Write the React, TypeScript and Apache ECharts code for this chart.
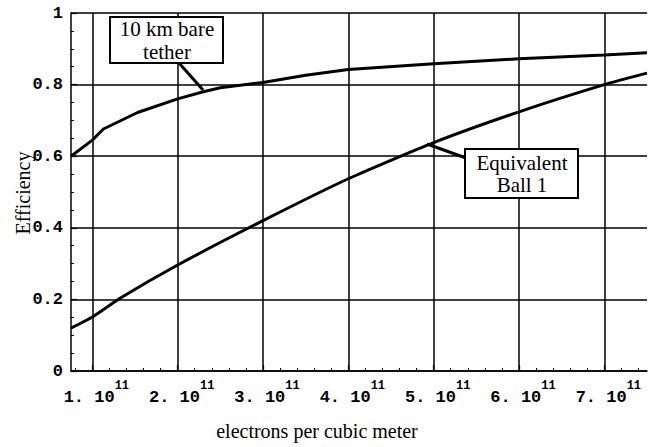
import React, { useEffect, useRef } from "react";
import * as echarts from "echarts";

// x in units of 1e11 electrons per cubic meter
const xTickValues = [1, 2, 3, 4, 5, 6, 7];
const tetherX = [0.75, 1.0, 1.13, 1.53, 2.0, 2.3, 2.5, 3.0, 3.5, 4.0, 5.0, 6.0, 7.0, 7.5];
const tetherY = [0.600, 0.645, 0.676, 0.722, 0.760, 0.780, 0.791, 0.806, 0.826, 0.842, 0.858, 0.872, 0.883, 0.889];
const ballX = [0.75, 1.0, 1.33, 2.0, 3.0, 4.0, 5.0, 6.0, 7.0, 7.5];
const ballY = [0.12, 0.151, 0.204, 0.296, 0.42, 0.537, 0.638, 0.724, 0.80, 0.832];

const MONO = "'Liberation Mono', 'DejaVu Sans Mono', monospace";
const SERIF = "'Liberation Serif', 'DejaVu Serif', serif";

export default function App() {
  const ref = useRef<HTMLDivElement>(null);
  useEffect(() => {
    document.body.style.margin = "0";
    const chart = echarts.init(ref.current!, undefined, { renderer: "svg" });
    const black = "#000";
    chart.setOption({
      animation: false,
      backgroundColor: "#fff",
      grid: { left: 71, right: 22, top: 13, bottom: 76, containLabel: false },
      xAxis: {
        type: "value",
        min: 0.75,
        max: 7.5,
        axisLine: { show: true, lineStyle: { color: black, width: 1.5 } },
        axisTick: { show: true, inside: true, length: 6, customValues: xTickValues, lineStyle: { color: black, width: 1.2 } },
        minorTick: { show: true, splitNumber: 5, length: 3, lineStyle: { color: black, width: 1 } },
        splitLine: { show: true, lineStyle: { color: black, width: 1.5 } },
        axisLabel: {
          customValues: xTickValues,
          margin: 9,
          padding: [0, 0, 0, 8],
          formatter: (v: number) => `{a|${v}. 10}{b|11}`,
          rich: {
            a: { fontFamily: MONO, fontWeight: "bold", fontSize: 17, color: black, verticalAlign: "bottom" },
            b: { fontFamily: MONO, fontWeight: "bold", fontSize: 12, color: black, padding: [0, 0, 14, 0], verticalAlign: "top" },
          },
        },
      },
      yAxis: {
        type: "value",
        min: 0,
        max: 1,
        interval: 0.2,
        axisLine: { show: true, lineStyle: { color: black, width: 1.5 } },
        axisTick: { show: true, inside: true, length: 6, lineStyle: { color: black, width: 1.2 } },
        minorTick: { show: true, splitNumber: 4, length: 3, lineStyle: { color: black, width: 1 } },
        splitLine: { show: true, lineStyle: { color: black, width: 1.5 } },
        axisLabel: { margin: 8, fontFamily: MONO, fontWeight: "bold", fontSize: 17, color: black },
      },
      series: [
        {
          name: "10 km bare tether",
          type: "line",
          symbol: "none",
          smooth: false,
          lineStyle: { color: black, width: 3 },
          data: tetherX.map((x, i) => [x, tetherY[i]]),
          z: 5,
        },
        {
          name: "Equivalent Ball 1",
          type: "line",
          symbol: "none",
          smooth: 0.2,
          lineStyle: { color: black, width: 3 },
          data: ballX.map((x, i) => [x, ballY[i]]),
          z: 5,
        },
      ],
      graphic: [
        { type: "line", shape: { x1: 179, y1: 63, x2: 203, y2: 90 }, style: { stroke: black, lineWidth: 3 }, z: 10 },
        { type: "rect", shape: { x: 110, y: 17, width: 113, height: 46 }, style: { fill: "#fff", stroke: black, lineWidth: 2 }, z: 10 },
        { type: "text", x: 167, y: 29, style: { text: "10 km bare", font: `21px ${SERIF}`, fill: black, align: "center", verticalAlign: "middle" }, z: 11 },
        { type: "text", x: 167, y: 52, style: { text: "tether", font: `21px ${SERIF}`, fill: black, align: "center", verticalAlign: "middle" }, z: 11 },
        { type: "line", shape: { x1: 466, y1: 158, x2: 427, y2: 144 }, style: { stroke: black, lineWidth: 3 }, z: 10 },
        { type: "rect", shape: { x: 465, y: 149, width: 113, height: 49 }, style: { fill: "#fff", stroke: black, lineWidth: 2 }, z: 10 },
        { type: "text", x: 522, y: 163, style: { text: "Equivalent", font: `21px ${SERIF}`, fill: black, align: "center", verticalAlign: "middle" }, z: 11 },
        { type: "text", x: 522, y: 185, style: { text: "Ball 1", font: `21px ${SERIF}`, fill: black, align: "center", verticalAlign: "middle" }, z: 11 },
        { type: "text", x: 23, y: 193, rotation: Math.PI / 2, style: { text: "Efficiency", font: `20px ${SERIF}`, fill: black, align: "center", verticalAlign: "middle" } },
        { type: "text", x: 317, y: 431, style: { text: "electrons per cubic meter", font: `20px ${SERIF}`, fill: black, align: "center", verticalAlign: "middle" } },
      ],
    });
    return () => chart.dispose();
  }, []);
  return <div ref={ref} style={{ width: 669, height: 447 }} />;
}
